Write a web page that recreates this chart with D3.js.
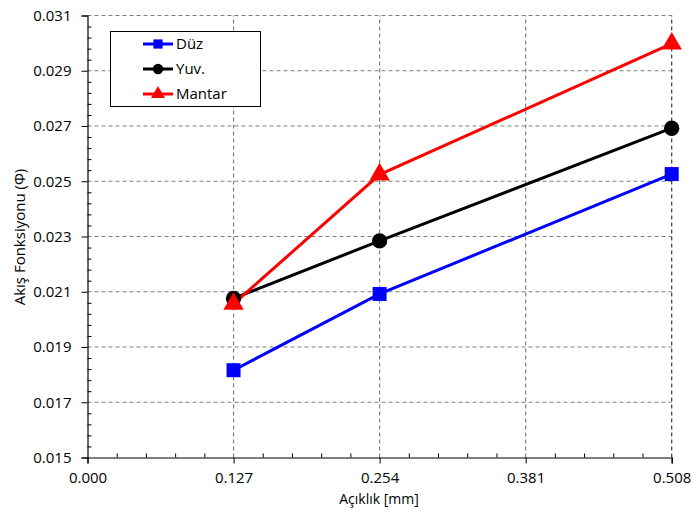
<!DOCTYPE html>
<html>
<head>
<meta charset="utf-8">
<script src="https://cdn.jsdelivr.net/npm/d3@7"></script>
<style>
  html, body { margin: 0; padding: 0; background: #fff; }
  svg { display: block; font-family: "Open Sans", "Noto Sans", sans-serif; }
</style>
</head>
<body>
<svg id="chart" width="692" height="516"></svg>
<script>
// Gap width (mm) on the x axis
const gaps = [0.127, 0.254, 0.508];
// Flow function values for each fin profile
const duz    = [0.01816, 0.02092, 0.02526];
const yuv    = [0.02076, 0.02284, 0.02692];
const mantar = [0.02056, 0.02524, 0.02998];
const seriesNames = ["Düz", "Yuv.", "Mantar"];
const seriesColors = ["#0000ff", "#000000", "#ff0000"];
const seriesShapes = [d3.symbolSquare, d3.symbolCircle, d3.symbolTriangle];
const xTicks = [0.000, 0.127, 0.254, 0.381, 0.508];
const yTicks = [0.015, 0.017, 0.019, 0.021, 0.023, 0.025, 0.027, 0.029, 0.031];

const svg = d3.select("#chart");
const x = d3.scaleLinear().domain([0, 0.508]).range([87.5, 671.7]);
const y = d3.scaleLinear().domain([0.015, 0.031]).range([457.5, 15.5]);

const series = [duz, yuv, mantar].map((vals, i) => ({
  name: seriesNames[i], color: seriesColors[i], shape: seriesShapes[i],
  points: vals.map((v, j) => ({ x: gaps[j], y: v }))
}));

// Gridlines
const grid = svg.append("g");
grid.selectAll("line.h").data(yTicks.slice(1)).join("line")
  .attr("x1", x(0)).attr("x2", x(0.508))
  .attr("y1", d => y(d)).attr("y2", d => y(d))
  .attr("stroke", "#808080").attr("stroke-width", 1.2).attr("stroke-dasharray", "4,3");
grid.selectAll("line.v").data(xTicks.slice(1)).join("line")
  .attr("y1", y(0.015)).attr("y2", y(0.031))
  .attr("x1", d => x(d)).attr("x2", d => x(d))
  .attr("stroke", d => d === 0.508 ? "#3a3a3a" : "#808080")
  .attr("stroke-width", 1.2).attr("stroke-dasharray", "4,3");

// Minor ticks (inside)
const yMinor = d3.range(0, 41).map(i => 0.015 + i * 0.0004).filter((d, i) => i % 5 !== 0);
const xMinor = d3.range(0, 21).map(i => i * 0.0254).filter((d, i) => i % 5 !== 0);
svg.append("g").attr("transform", `translate(${x(0)},0)`)
  .call(d3.axisRight(y).tickValues(yMinor).tickSize(4).tickFormat(""))
  .call(g => g.select(".domain").remove())
  .selectAll("line").attr("stroke", "#000");
svg.append("g").attr("transform", `translate(0,${y(0.015)})`)
  .call(d3.axisTop(x).tickValues(xMinor).tickSize(4).tickFormat(""))
  .call(g => g.select(".domain").remove())
  .selectAll("line").attr("stroke", "#000");

// Major axes
const yAxis = svg.append("g").attr("transform", `translate(${x(0)},0)`)
  .call(d3.axisLeft(y).tickValues(yTicks).tickSizeOuter(0).tickSize(6).tickPadding(10).tickFormat(d3.format(".3f")));
const xAxis = svg.append("g").attr("transform", `translate(0,${y(0.015)})`)
  .call(d3.axisBottom(x).tickValues(xTicks).tickSizeOuter(0).tickSize(6).tickPadding(9).tickFormat(d3.format(".3f")));
[yAxis, xAxis].forEach(a => {
  a.select(".domain").attr("stroke", "#000").attr("stroke-width", 1.2);
  a.selectAll("line").attr("stroke", "#000");
  a.selectAll("text").attr("font-size", 15).attr("fill", "#000")
    .attr("font-family", "'Open Sans', 'Noto Sans', sans-serif");
});

// Axis titles
svg.append("text").attr("x", 379).attr("y", 504).attr("text-anchor", "middle")
  .attr("font-size", 14).text("Açıklık [mm]");
svg.append("text").attr("transform", "translate(25,237) rotate(-90)")
  .attr("text-anchor", "middle").attr("font-size", 15).text("Akış Fonksiyonu (Φ)");

// Series lines and markers
const line = d3.line().x(d => x(d.x)).y(d => y(d.y));
series.forEach(s => {
  svg.append("path").datum(s.points).attr("d", line)
    .attr("fill", "none").attr("stroke", s.color).attr("stroke-width", 3);
});
const sizes = [196, 185, 180];
series.forEach((s, i) => {
  svg.append("g").selectAll("path").data(s.points).join("path")
    .attr("transform", d => `translate(${x(d.x)},${y(d.y)})`)
    .attr("d", d3.symbol().type(s.shape).size(sizes[i]))
    .attr("fill", s.color);
});

// Legend
const lg = svg.append("g");
lg.append("rect").attr("x", 110.5).attr("y", 31.5).attr("width", 150).attr("height", 75)
  .attr("fill", "#fff").attr("stroke", "#000").attr("stroke-width", 1);
series.forEach((s, i) => {
  const cy = 44 + i * 25;
  lg.append("line").attr("x1", 143).attr("x2", 173).attr("y1", cy).attr("y2", cy)
    .attr("stroke", s.color).attr("stroke-width", 3);
  lg.append("path").attr("transform", `translate(158,${cy})`)
    .attr("d", d3.symbol().type(s.shape).size(85)).attr("fill", s.color);
  lg.append("text").attr("x", 176).attr("y", cy + 5).attr("font-size", 15).text(s.name);
});
</script>
</body>
</html>
